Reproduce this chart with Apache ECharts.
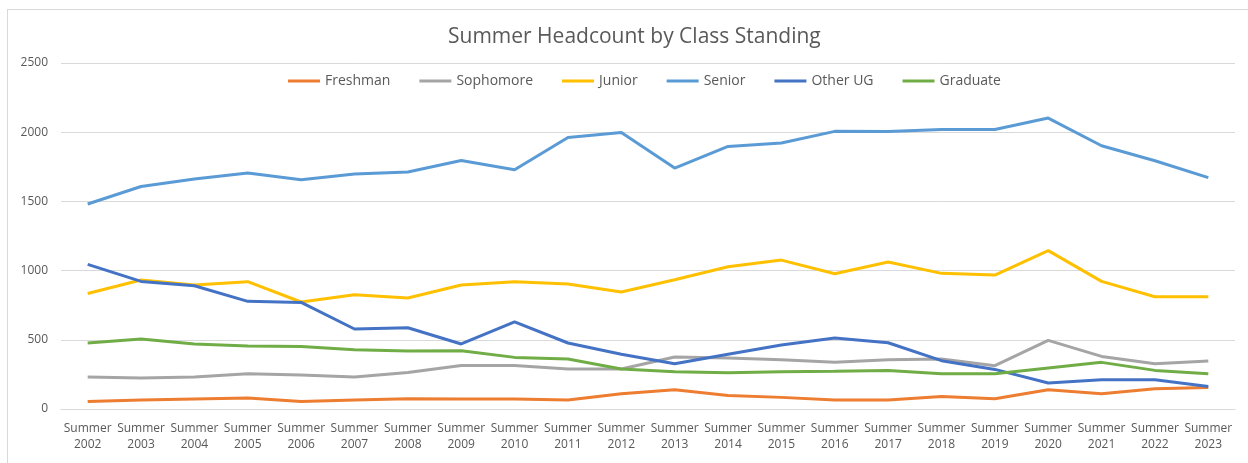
<!DOCTYPE html>
<html>
<head>
<meta charset="utf-8">
<script src="https://cdn.jsdelivr.net/npm/echarts@6/dist/echarts.min.js"></script>
<style>
  html, body { margin: 0; padding: 0; background: #fff; }
  #frame {
    position: absolute; left: 7px; top: 9px;
    width: 1260px; height: 480px;
    border: 1px solid #d9d9d9;
    box-sizing: border-box;
  }
  #main { position: absolute; left: 0; top: 0; width: 1248px; height: 463px; }
</style>
</head>
<body>
<div id="frame"></div>
<div id="main"></div>
<script>
  // 年份
  var years = ['2002', '2003', '2004', '2005', '2006', '2007', '2008', '2009', '2010', '2011', '2012',
    '2013', '2014', '2015', '2016', '2017', '2018', '2019', '2020', '2021', '2022', '2023'];
  var categories = years.map(function (y) { return 'Summer\n' + y; });

  var freshman = [55, 65, 72, 79, 55, 65, 74, 72, 72, 65, 111, 139, 98, 84, 65, 65, 91, 74, 139, 111, 147, 156];
  var sophomore = [231, 224, 231, 255, 246, 231, 264, 315, 315, 289, 289, 376, 368, 356, 337, 356, 361, 313, 496, 380, 327, 347];
  var junior = [835, 932, 896, 920, 773, 826, 802, 896, 920, 903, 845, 934, 1028, 1076, 977, 1062, 980, 968, 1144, 922, 811, 811];
  var senior = [1481, 1608, 1662, 1705, 1657, 1698, 1712, 1796, 1729, 1962, 1998, 1741, 1897, 1922, 2006, 2005, 2020, 2020, 2102, 1902, 1794, 1672];
  var otherUG = [1045, 922, 891, 778, 770, 578, 587, 470, 629, 477, 395, 327, 395, 462, 513, 479, 349, 286, 188, 212, 212, 163];
  var graduate = [477, 506, 470, 455, 452, 428, 419, 421, 373, 361, 289, 269, 262, 269, 272, 279, 255, 255, 296, 337, 279, 255];

  var yTicks = [0, 500, 1000, 1500, 2000, 2500];

  var seriesNames = ['Freshman', 'Sophomore', 'Junior', 'Senior', 'Other UG', 'Graduate'];
  var seriesData = [freshman, sophomore, junior, senior, otherUG, graduate];
  var colors = ['#ED7D31', '#A5A5A5', '#FFC000', '#5B9BD5', '#4472C4', '#70AD47'];

  var font = 'Open Sans';
  var myChart = echarts.init(document.getElementById('main'));
  myChart.setOption({
    animation: false,
    color: colors,
    title: {
      text: 'Summer Headcount by Class Standing',
      left: 443,
      top: 22,
      textStyle: { color: '#595959', fontSize: 21, fontWeight: 'normal', fontFamily: font }
    },
    legend: {
      top: 69,
      left: 283,
      icon: 'rect',
      itemWidth: 32,
      itemHeight: 3,
      itemGap: 29,
      textStyle: { color: '#595959', fontSize: 14, fontFamily: font },
      data: seriesNames
    },
    grid: {
      left: 61,
      right: 13,
      top: 63,
      bottom: 54,
      containLabel: false
    },
    xAxis: {
      type: 'category',
      boundaryGap: true,
      data: categories,
      axisLine: { lineStyle: { color: '#D9D9D9', width: 1 } },
      axisTick: { show: false },
      axisLabel: {
        color: '#595959',
        fontSize: 12,
        fontFamily: font,
        lineHeight: 16,
        margin: 12,
        interval: 0
      }
    },
    yAxis: {
      type: 'value',
      min: yTicks[0],
      max: yTicks[yTicks.length - 1],
      interval: 500,
      axisLine: { show: false },
      axisTick: { show: false },
      splitLine: { lineStyle: { color: '#D9D9D9', width: 1 } },
      axisLabel: {
        color: '#595959', fontSize: 12, fontFamily: font, margin: 13,
        formatter: function (v) { return String(v); }
      }
    },
    series: seriesNames.map(function (name, i) {
      return {
        name: name,
        type: 'line',
        data: seriesData[i],
        symbol: 'none',
        lineStyle: { width: 3 },
        z: 2 + i
      };
    })
  });
</script>
</body>
</html>
